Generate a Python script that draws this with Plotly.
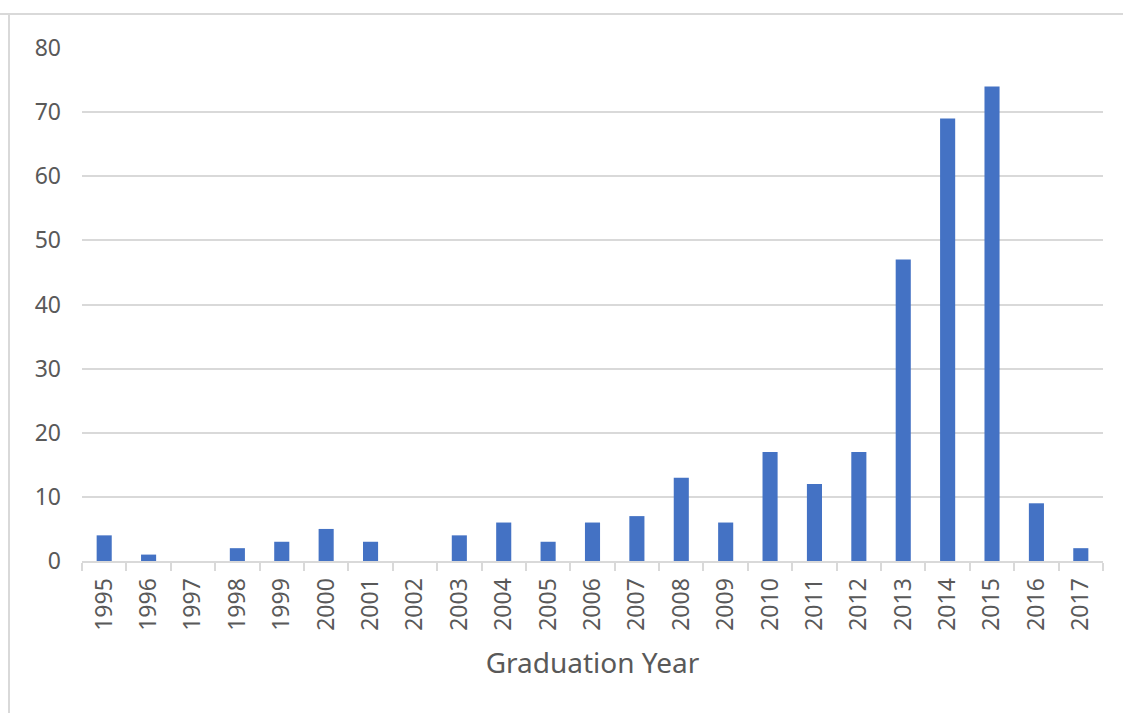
import plotly.graph_objects as go

years = ["1995", "1996", "1997", "1998", "1999", "2000", "2001", "2002", "2003", "2004",
         "2005", "2006", "2007", "2008", "2009", "2010", "2011", "2012", "2013", "2014",
         "2015", "2016", "2017"]
counts = [4, 1, 0, 2, 3, 5, 3, 0, 4, 6, 3, 6, 7, 13, 6, 17, 12, 17, 47, 69, 74, 9, 2]
y_ticks = [0, 10, 20, 30, 40, 50, 60, 70, 80]

txt = "#595959"
grid = "#d9d9d9"
fnt = "Noto Sans"

fig = go.Figure(go.Bar(x=years, y=counts, marker=dict(color="#4472c4", line=dict(width=0)),
                       width=0.34))

fig.update_layout(
    width=1123, height=713,
    margin=dict(l=82, r=20, t=48, b=152),
    paper_bgcolor="white", plot_bgcolor="white",
    font=dict(family=fnt, color=txt, size=22),
    showlegend=False,
    bargap=0.66,
    shapes=[
        dict(type="line", xref="paper", yref="paper", x0=-82/1021, x1=1.2, y0=(713-14-152)/513, y1=(713-14-152)/513,
             line=dict(color=grid, width=2)),
        dict(type="line", xref="paper", yref="paper", x0=-73/1021, x1=-73/1021, y0=-2, y1=(713-14-152)/513,
             line=dict(color=grid, width=2)),
    ],
)
fig.update_xaxes(
    type="category",
    showline=True, linecolor=grid, linewidth=2,
    ticks="outside", tickson="boundaries", ticklen=8, tickcolor=grid, tickwidth=2,
    tickangle=-90, tickfont=dict(size=23, color=txt),
    ticklabelstandoff=6,
    showgrid=False,
    title=dict(text="Graduation Year", font=dict(size=28, color=txt), standoff=24),
)
fig.update_yaxes(
    range=[0, 80], tickvals=y_ticks, ticktext=[str(v) for v in y_ticks],
    showgrid=True, gridcolor=grid, gridwidth=2,
    zeroline=False, showline=False, ticks="",
    ticklabelstandoff=20,
    tickfont=dict(size=23, color=txt),
)

fig.write_html("out.html")
